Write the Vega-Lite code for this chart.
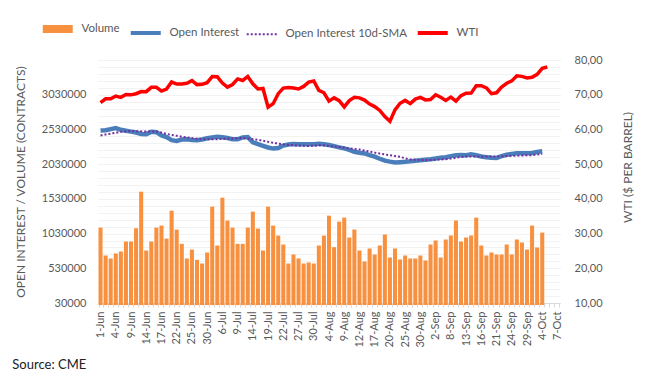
{
  "$schema": "https://vega.github.io/schema/vega-lite/v6.json",
  "width": 462,
  "height": 243,
  "autosize": "none",
  "padding": {"left": 98, "top": 60, "right": 94, "bottom": 84},
  "background": "white",
  "config": {"view": {"stroke": null}, "font": "Lato", "axis": {"labelOverlap": false}},
  "title": {"text": "Source: CME", "orient": "bottom", "anchor": "start", "frame": "bounds", "offset": 12, "dx": -2, "fontSize": 13, "fontWeight": "normal", "color": "#222222", "font": "Lato"},
  "data": {"values": [
    {"d":"1-Jun","v":1116000,"oi":2516000,"sma":2444000,"wti":67.72},
    {"d":"2-Jun","v":714000,"oi":2518000,"sma":2458000,"wti":68.83},
    {"d":"3-Jun","v":671000,"oi":2535000,"sma":2470000,"wti":68.81},
    {"d":"4-Jun","v":743000,"oi":2549000,"sma":2482000,"wti":69.62},
    {"d":"7-Jun","v":772000,"oi":2525000,"sma":2495000,"wti":69.23},
    {"d":"8-Jun","v":915000,"oi":2512000,"sma":2504000,"wti":70.05},
    {"d":"9-Jun","v":915000,"oi":2498000,"sma":2507000,"wti":69.96},
    {"d":"10-Jun","v":1107000,"oi":2485000,"sma":2505000,"wti":70.29},
    {"d":"11-Jun","v":1633000,"oi":2465000,"sma":2502000,"wti":70.91},
    {"d":"14-Jun","v":786000,"oi":2462000,"sma":2501000,"wti":70.88},
    {"d":"15-Jun","v":915000,"oi":2495000,"sma":2501000,"wti":72.12},
    {"d":"16-Jun","v":1116000,"oi":2490000,"sma":2500000,"wti":72.15},
    {"d":"17-Jun","v":1145000,"oi":2445000,"sma":2485000,"wti":71.04},
    {"d":"18-Jun","v":958000,"oi":2420000,"sma":2465000,"wti":71.64},
    {"d":"21-Jun","v":1360000,"oi":2375000,"sma":2450000,"wti":73.66},
    {"d":"22-Jun","v":1087000,"oi":2365000,"sma":2438000,"wti":73.06},
    {"d":"23-Jun","v":882000,"oi":2385000,"sma":2425000,"wti":73.08},
    {"d":"24-Jun","v":671000,"oi":2388000,"sma":2415000,"wti":73.30},
    {"d":"25-Jun","v":800000,"oi":2378000,"sma":2405000,"wti":74.05},
    {"d":"28-Jun","v":652000,"oi":2373000,"sma":2397000,"wti":72.91},
    {"d":"29-Jun","v":599000,"oi":2385000,"sma":2392000,"wti":72.98},
    {"d":"30-Jun","v":757000,"oi":2402000,"sma":2388000,"wti":73.47},
    {"d":"1-Jul","v":1418000,"oi":2415000,"sma":2387000,"wti":75.23},
    {"d":"2-Jul","v":858000,"oi":2425000,"sma":2390000,"wti":75.16},
    {"d":"6-Jul","v":1547000,"oi":2418000,"sma":2394000,"wti":73.37},
    {"d":"7-Jul","v":1217000,"oi":2406000,"sma":2397000,"wti":72.20},
    {"d":"8-Jul","v":1116000,"oi":2390000,"sma":2400000,"wti":72.94},
    {"d":"9-Jul","v":882000,"oi":2388000,"sma":2403000,"wti":74.56},
    {"d":"12-Jul","v":882000,"oi":2415000,"sma":2406000,"wti":74.10},
    {"d":"13-Jul","v":1116000,"oi":2420000,"sma":2400000,"wti":75.25},
    {"d":"14-Jul","v":1346000,"oi":2345000,"sma":2390000,"wti":73.13},
    {"d":"15-Jul","v":1102000,"oi":2318000,"sma":2380000,"wti":71.65},
    {"d":"16-Jul","v":786000,"oi":2292000,"sma":2368000,"wti":71.81},
    {"d":"19-Jul","v":1418000,"oi":2270000,"sma":2352000,"wti":66.42},
    {"d":"20-Jul","v":1145000,"oi":2254000,"sma":2338000,"wti":67.42},
    {"d":"21-Jul","v":1001000,"oi":2262000,"sma":2325000,"wti":70.30},
    {"d":"22-Jul","v":872000,"oi":2298000,"sma":2315000,"wti":71.91},
    {"d":"23-Jul","v":599000,"oi":2312000,"sma":2307000,"wti":72.07},
    {"d":"26-Jul","v":729000,"oi":2320000,"sma":2301000,"wti":71.91},
    {"d":"27-Jul","v":671000,"oi":2318000,"sma":2298000,"wti":71.65},
    {"d":"28-Jul","v":599000,"oi":2316000,"sma":2295000,"wti":72.39},
    {"d":"29-Jul","v":614000,"oi":2316000,"sma":2292000,"wti":73.62},
    {"d":"30-Jul","v":599000,"oi":2318000,"sma":2295000,"wti":73.95},
    {"d":"2-Aug","v":858000,"oi":2322000,"sma":2302000,"wti":71.26},
    {"d":"3-Aug","v":1001000,"oi":2315000,"sma":2300000,"wti":70.56},
    {"d":"4-Aug","v":1288000,"oi":2305000,"sma":2292000,"wti":68.15},
    {"d":"5-Aug","v":834000,"oi":2290000,"sma":2284000,"wti":69.09},
    {"d":"6-Aug","v":1202000,"oi":2272000,"sma":2278000,"wti":68.28},
    {"d":"9-Aug","v":1260000,"oi":2258000,"sma":2268000,"wti":66.48},
    {"d":"10-Aug","v":973000,"oi":2235000,"sma":2258000,"wti":68.29},
    {"d":"11-Aug","v":1087000,"oi":2208000,"sma":2248000,"wti":69.25},
    {"d":"12-Aug","v":786000,"oi":2195000,"sma":2240000,"wti":69.09},
    {"d":"13-Aug","v":628000,"oi":2184000,"sma":2226000,"wti":68.44},
    {"d":"16-Aug","v":815000,"oi":2160000,"sma":2211000,"wti":67.29},
    {"d":"17-Aug","v":729000,"oi":2138000,"sma":2196000,"wti":66.59},
    {"d":"18-Aug","v":858000,"oi":2108000,"sma":2182000,"wti":65.46},
    {"d":"19-Aug","v":1016000,"oi":2080000,"sma":2170000,"wti":63.69},
    {"d":"20-Aug","v":686000,"oi":2066000,"sma":2158000,"wti":62.32},
    {"d":"23-Aug","v":815000,"oi":2054000,"sma":2146000,"wti":65.64},
    {"d":"24-Aug","v":657000,"oi":2058000,"sma":2135000,"wti":67.54},
    {"d":"25-Aug","v":714000,"oi":2063000,"sma":2115000,"wti":68.36},
    {"d":"26-Aug","v":671000,"oi":2070000,"sma":2097000,"wti":67.42},
    {"d":"27-Aug","v":671000,"oi":2078000,"sma":2093000,"wti":68.74},
    {"d":"30-Aug","v":714000,"oi":2085000,"sma":2090000,"wti":69.21},
    {"d":"31-Aug","v":642000,"oi":2094000,"sma":2087000,"wti":68.50},
    {"d":"1-Sep","v":872000,"oi":2100000,"sma":2090000,"wti":68.59},
    {"d":"2-Sep","v":930000,"oi":2110000,"sma":2094000,"wti":69.99},
    {"d":"3-Sep","v":686000,"oi":2122000,"sma":2098000,"wti":69.29},
    {"d":"7-Sep","v":944000,"oi":2130000,"sma":2101000,"wti":68.35},
    {"d":"8-Sep","v":1001000,"oi":2145000,"sma":2111000,"wti":69.30},
    {"d":"9-Sep","v":1217000,"oi":2158000,"sma":2121000,"wti":68.14},
    {"d":"10-Sep","v":915000,"oi":2160000,"sma":2131000,"wti":69.72},
    {"d":"13-Sep","v":973000,"oi":2159000,"sma":2140000,"wti":70.45},
    {"d":"14-Sep","v":1001000,"oi":2172000,"sma":2140000,"wti":70.46},
    {"d":"15-Sep","v":1260000,"oi":2158000,"sma":2140000,"wti":72.61},
    {"d":"16-Sep","v":858000,"oi":2140000,"sma":2140000,"wti":72.61},
    {"d":"17-Sep","v":714000,"oi":2130000,"sma":2140000,"wti":71.97},
    {"d":"20-Sep","v":757000,"oi":2121000,"sma":2140000,"wti":70.29},
    {"d":"21-Sep","v":729000,"oi":2120000,"sma":2140000,"wti":70.56},
    {"d":"22-Sep","v":729000,"oi":2145000,"sma":2143000,"wti":72.23},
    {"d":"23-Sep","v":872000,"oi":2165000,"sma":2146000,"wti":73.30},
    {"d":"24-Sep","v":729000,"oi":2178000,"sma":2149000,"wti":73.98},
    {"d":"27-Sep","v":944000,"oi":2186000,"sma":2152000,"wti":75.45},
    {"d":"28-Sep","v":901000,"oi":2188000,"sma":2155000,"wti":75.29},
    {"d":"29-Sep","v":800000,"oi":2187000,"sma":2157000,"wti":74.83},
    {"d":"30-Sep","v":1145000,"oi":2190000,"sma":2159000,"wti":75.03},
    {"d":"1-Oct","v":829000,"oi":2205000,"sma":2170000,"wti":75.88},
    {"d":"4-Oct","v":1044000,"oi":2215000,"sma":2176000,"wti":77.62},
    {"d":"5-Oct","v":null,"oi":null,"sma":null,"wti":78.00}
  ]},
  "encoding": {
    "x": {
      "field": "d", "type": "ordinal", "sort": null,
      "scale": {
        "domain": ["1-Jun","2-Jun","3-Jun","4-Jun","7-Jun","8-Jun","9-Jun","10-Jun","11-Jun","14-Jun","15-Jun","16-Jun","17-Jun","18-Jun","21-Jun","22-Jun","23-Jun","24-Jun","25-Jun","28-Jun","29-Jun","30-Jun","1-Jul","2-Jul","6-Jul","7-Jul","8-Jul","9-Jul","12-Jul","13-Jul","14-Jul","15-Jul","16-Jul","19-Jul","20-Jul","21-Jul","22-Jul","23-Jul","26-Jul","27-Jul","28-Jul","29-Jul","30-Jul","2-Aug","3-Aug","4-Aug","5-Aug","6-Aug","9-Aug","10-Aug","11-Aug","12-Aug","13-Aug","16-Aug","17-Aug","18-Aug","19-Aug","20-Aug","23-Aug","24-Aug","25-Aug","26-Aug","27-Aug","30-Aug","31-Aug","1-Sep","2-Sep","3-Sep","7-Sep","8-Sep","9-Sep","10-Sep","13-Sep","14-Sep","15-Sep","16-Sep","17-Sep","20-Sep","21-Sep","22-Sep","23-Sep","24-Sep","27-Sep","28-Sep","29-Sep","30-Sep","1-Oct","4-Oct","5-Oct","6-Oct","7-Oct"],
        "paddingInner": 0.2, "paddingOuter": 0.1
      },
      "axis": {
        "title": null, "labelAngle": -90,
        "labelExpr": "indexof(['1-Jun','4-Jun','9-Jun','14-Jun','17-Jun','22-Jun','25-Jun','30-Jun','6-Jul','9-Jul','14-Jul','19-Jul','22-Jul','27-Jul','30-Jul','4-Aug','9-Aug','12-Aug','17-Aug','20-Aug','25-Aug','30-Aug','2-Sep','8-Sep','13-Sep','16-Sep','21-Sep','24-Sep','29-Sep','4-Oct','7-Oct'], datum.label) >= 0 ? datum.label : ''",
        "labelOverlap": false, "labelFont": "Lato", "labelFontSize": 11, "labelColor": "#595959", "labelPadding": 4,
        "ticks": true, "tickSize": 4, "tickColor": "#d9d9d9", "tickBand": "extent",
        "domainColor": "#d9d9d9", "grid": false
      }
    }
  },
  "layer": [
    {
      "layer": [
        {
          "mark": {"type": "bar"},
          "encoding": {
            "y": {
              "field": "v", "type": "quantitative", "title": "OPEN INTEREST / VOLUME (CONTRACTS)",
              "scale": {"domain": [30000, 3530000], "nice": false, "zero": false},
              "axis": {
                "values": [30000, 530000, 1030000, 1530000, 2030000, 2530000, 3030000, 3530000],
                "labelExpr": "datum.value < 3500000 ? format(datum.value, 'd') : ''",
                "labelOverlap": false, "labelBound": false, "labelSeparation": 0,
                "grid": true, "gridColor": "#d9d9d9",
                "ticks": false, "domain": false,
                "labelFont": "Lato", "labelFontSize": 11, "labelColor": "#595959", "labelPadding": 12,
                "titleFont": "Lato", "titleFontSize": 12, "titleFontWeight": "normal", "titleColor": "#595959", "titlePadding": 14
              }
            },
            "color": {
              "datum": "Volume",
              "scale": {"domain": ["Volume", "Open Interest", "Open Interest 10d-SMA", "WTI"], "range": ["#F7903F", "#4A7EBB", "#7030A0", "#FF0000"]},
              "legend": {
                "orient": "none", "legendX": -46, "legendY": -37, "direction": "horizontal", "title": null,
                "symbolType": "stroke", "symbolSize": 900, "symbolStrokeWidth": 4,
                "labelFont": "Lato", "labelFontSize": 11.5, "labelColor": "#595959", "labelOffset": 18, "columnPadding": 2,
                "encode": {
                  "symbols": {
                    "update": {
                      "stroke": {"scale": "color", "field": "value"},
                      "fill": {"value": "transparent"},
                      "strokeWidth": {"signal": "datum.value === 'Volume' ? 8 : (datum.value === 'Open Interest 10d-SMA' ? 2 : 4)"},
                      "strokeDash": {"signal": "datum.value === 'Open Interest 10d-SMA' ? [2, 2] : [1, 0]"}
                    }
                  }
                }
              }
            }
          }
        },
        {
          "mark": {"type": "line", "strokeWidth": 4.5},
          "encoding": {
            "y": {
              "field": "oi", "type": "quantitative", "title": "OPEN INTEREST / VOLUME (CONTRACTS)",
              "scale": {"domain": [30000, 3530000], "nice": false, "zero": false},
              "axis": {
                "values": [30000, 530000, 1030000, 1530000, 2030000, 2530000, 3030000, 3530000],
                "labelExpr": "datum.value < 3500000 ? format(datum.value, 'd') : ''",
                "labelOverlap": false, "labelBound": false, "labelSeparation": 0,
                "grid": true, "gridColor": "#d9d9d9",
                "ticks": false, "domain": false,
                "labelFont": "Lato", "labelFontSize": 11, "labelColor": "#595959", "labelPadding": 12,
                "titleFont": "Lato", "titleFontSize": 12, "titleFontWeight": "normal", "titleColor": "#595959", "titlePadding": 14
              }
            },
            "color": {"datum": "Open Interest"}
          }
        },
        {
          "mark": {"type": "line", "strokeWidth": 2, "strokeDash": [2, 2]},
          "encoding": {
            "y": {
              "field": "sma", "type": "quantitative", "title": "OPEN INTEREST / VOLUME (CONTRACTS)",
              "scale": {"domain": [30000, 3530000], "nice": false, "zero": false},
              "axis": {
                "values": [30000, 530000, 1030000, 1530000, 2030000, 2530000, 3030000, 3530000],
                "labelExpr": "datum.value < 3500000 ? format(datum.value, 'd') : ''",
                "labelOverlap": false, "labelBound": false, "labelSeparation": 0,
                "grid": true, "gridColor": "#d9d9d9",
                "ticks": false, "domain": false,
                "labelFont": "Lato", "labelFontSize": 11, "labelColor": "#595959", "labelPadding": 12,
                "titleFont": "Lato", "titleFontSize": 12, "titleFontWeight": "normal", "titleColor": "#595959", "titlePadding": 14
              }
            },
            "color": {"datum": "Open Interest 10d-SMA"}
          }
        }
      ]
    },
    {
      "mark": {"type": "line", "strokeWidth": 3.5},
      "encoding": {
        "y": {
          "field": "wti", "type": "quantitative", "title": "WTI ($ PER BARREL)",
          "scale": {"domain": [10, 80], "nice": false, "zero": false},
          "axis": {
            "orient": "right",
            "values": [10,12,14,16,18,20,22,24,26,28,30,32,34,36,38,40,42,44,46,48,50,52,54,56,58,60,62,64,66,68,70,72,74,76,78,80],
            "labelExpr": "datum.value % 10 === 0 ? replace(format(datum.value, '.2f'), '.', ',') : ''",
            "labelOverlap": false,
            "grid": true, "gridColor": "#f2f2f2", "gridWidth": 1,
            "ticks": false, "domain": false,
            "labelFont": "Lato", "labelFontSize": 11, "labelColor": "#595959", "labelPadding": 14,
            "titleFont": "Lato", "titleFontSize": 12, "titleFontWeight": "normal", "titleColor": "#595959", "titlePadding": 32, "titleAngle": -90, "titleY": 107
          }
        },
        "color": {"datum": "WTI"}
      }
    }
  ],
  "resolve": {"scale": {"y": "independent"}}
}
